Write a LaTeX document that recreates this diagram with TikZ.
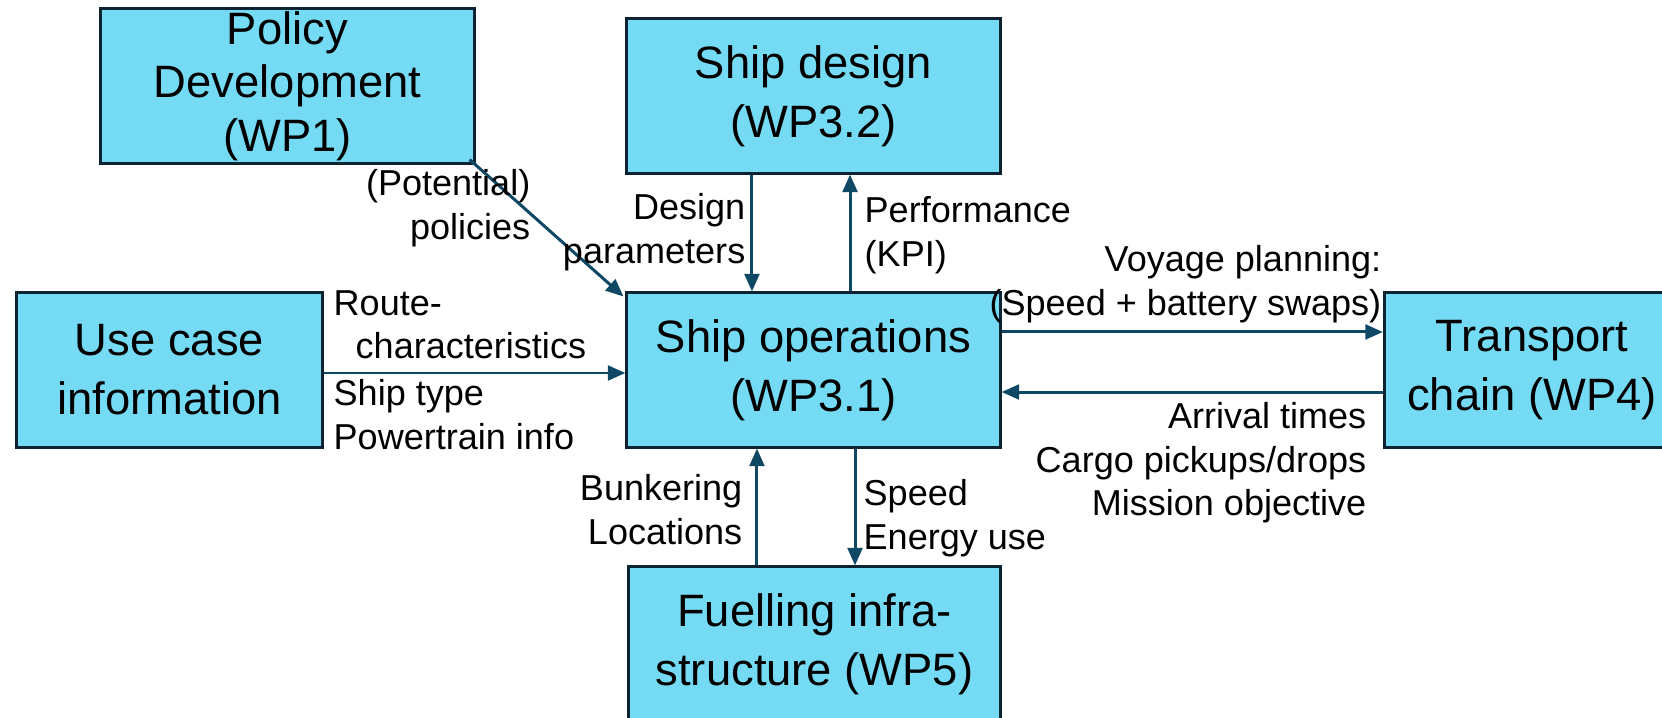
\documentclass[tikz,border=0pt]{standalone}
\usepackage{fontspec}
\setmainfont{Liberation Sans}
\usepackage{tikz}
\usetikzlibrary{arrows.meta}

\begin{document}
\begin{tikzpicture}[x=0.01cm, y=-0.01cm,
        wpbox/.style={draw=boxline, fill=boxfill, line width=0.85pt, inner sep=0pt,
            minimum width=3.73cm, minimum height=1.54cm, align=center,
            font=\fontsize{12.9}{16.8}\selectfont},
        flow/.style={draw=flowline, line width=0.85pt, -{Triangle[length=5pt,width=4.2pt]}},
        lbl/.style={inner sep=0pt, font=\fontsize{10.25}{12.3}\selectfont}]
        \definecolor{boxfill}{RGB}{117,218,243}
        \definecolor{boxline}{RGB}{12,36,50}
        \definecolor{flowline}{RGB}{14,72,100}
        \useasboundingbox (0,0) rectangle (1662,718);

        % Work package boxes
        \node[wpbox, font=\fontsize{12.9}{15.2}\selectfont] (policy) at (287.5,86) {\vphantom{Ag}Policy\\Development\\(WP1)};
        \node[wpbox] (design) at (813.5,96) {Ship design\\(WP3.2)};
        \node[wpbox, minimum width=3.05cm] (usecase) at (169.5,370) {Use case\\information};
        \node[wpbox] (ops) at (813.5,370) {Ship operations\\(WP3.1)};
        \node[wpbox, minimum width=2.95cm] (transport) at (1532,370) {Transport\\chain (WP4)};
        \node[wpbox, minimum width=3.71cm] (fuel) at (814.5,644) {Fuelling infra-\\structure (WP5)};

        % Policies into ship operations
        \draw[flow] ([xshift=-0.06cm,yshift=0.05cm]policy.south east) -- ([xshift=-0.02cm,yshift=-0.05cm]ops.north west);
        \node[lbl, anchor=north east, align=right] (potlbl) at (531,169) {(Potential)\\policies};

        % Ship design <-> ship operations
        \draw[flow] ([xshift=-0.615cm]design.south) -- ([xshift=-0.615cm]ops.north);
        \draw[flow] ([xshift=0.365cm]ops.north) -- ([xshift=0.365cm]design.south);
        \node[lbl, anchor=north east, align=right] (deslbl) at (746,193) {Design\\parameters};
        \node[lbl, anchor=north west, align=left] (perflbl) at (864,196) {Performance\\(KPI)};

        % Use case input
        \draw[flow] ([yshift=-0.03cm]usecase.east) -- ([yshift=-0.03cm]ops.west);
        \node[lbl, anchor=north west, align=left] (routelbl) at (333,290) {Route-\\\mbox{}\hspace{0.22cm}characteristics};
        \node[lbl, anchor=north west, align=left] (shiplbl) at (333,379) {Ship type\\Powertrain info};

        % Ship operations <-> transport chain
        \draw[flow] ([yshift=0.38cm]ops.east) -- ([yshift=0.38cm]transport.west);
        \draw[flow] ([yshift=-0.22cm]transport.west) -- ([yshift=-0.22cm]ops.east);
        \node[lbl, anchor=north east, align=right] (voylbl) at (1382,245) {Voyage planning:\\(Speed + battery swaps)};
        \node[lbl, anchor=north east, align=right] (arrlbl) at (1367,402) {Arrival times\\Cargo pickups/drops\\Mission objective};

        % Fuelling infrastructure <-> ship operations
        \draw[flow] ([xshift=-0.575cm]fuel.north) -- ([xshift=-0.575cm]fuel.north |- ops.south);
        \draw[flow] ([xshift=0.405cm]fuel.north |- ops.south) -- ([xshift=0.405cm]fuel.north);
        \node[lbl, anchor=north east, align=right] (bunklbl) at (743,474) {Bunkering\\Locations};
        \node[lbl, anchor=north west, align=left] (speedlbl) at (863,479) {Speed\\Energy use};
\end{tikzpicture}
\end{document}
